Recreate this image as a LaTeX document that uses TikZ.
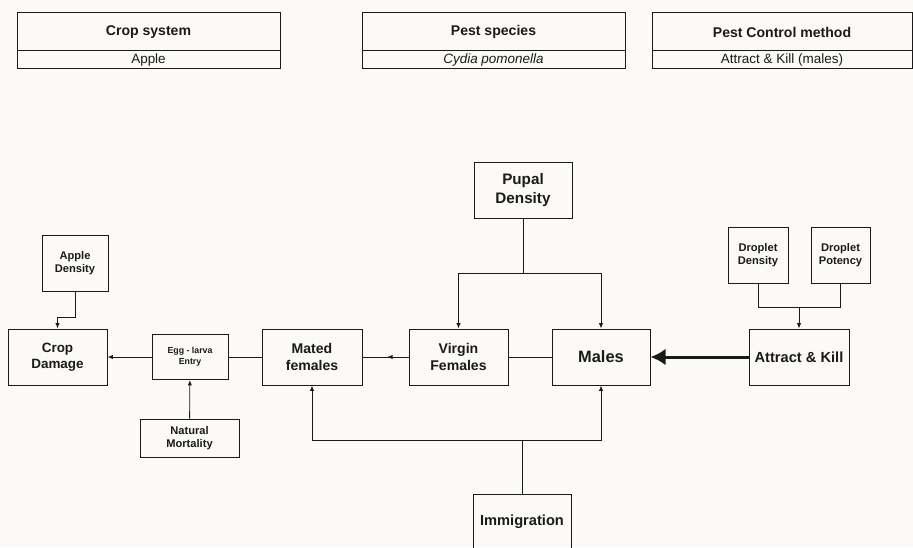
\documentclass[tikz,border=0pt]{standalone}
\usepackage{fontspec}
\setmainfont{Liberation Sans}
\usepackage{tikz}
\usepackage{xcolor}
\usetikzlibrary{arrows.meta,positioning}
\definecolor{paper}{HTML}{FBFAF6}
\definecolor{ink}{HTML}{1A1A1A}
\tikzset{
  tablehead/.style={
    draw=ink,
    line width=0.03cm,
    minimum width=7.89cm,
    minimum height=1.14cm,
    inner sep=0pt,
    font=\fontsize{12}{14}\selectfont\bfseries,
    text=ink
  },
  tablecell/.style={
    draw=ink,
    line width=0.03cm,
    minimum width=7.89cm,
    minimum height=0.54cm,
    inner sep=0pt,
    font=\fontsize{11.5}{13}\selectfont,
    text=ink
  },
  modelbox/.style={
    draw=ink,
    line width=0.03cm,
    minimum width=3cm,
    minimum height=1.68cm,
    inner sep=0.08cm,
    align=center,
    font=\fontsize{12}{14.5}\selectfont\bfseries,
    text=ink
  },
  inputbox/.style={modelbox, font=\fontsize{9.5}{11.5}\selectfont\bfseries},
  flowlink/.style={draw=ink, line width=0.025cm},
  flowarrow/.style={flowlink, -{Latex[length=0.16cm,width=0.13cm]}},
  killarrow/.style={-{Latex[length=0.45cm,width=0.5cm]}, line width=0.09cm, draw=ink}
}

\begin{document}
\begin{tikzpicture}
      \fill[paper] (0,0) rectangle (27.39,16.41);
      \useasboundingbox (0,0) rectangle (27.39,16.41);
      % summary tables
      \node[tablehead] (crophead) at (4.455,15.45) {Crop system};
      \node[tablecell,below=-0.03cm of crophead] (cropval) {Apple};
      \node[tablehead] (pesthead) at (14.805,15.45) {Pest species};
      \node[tablecell,below=-0.03cm of pesthead] (pestval) {\itshape Cydia pomonella};
      \node[tablehead,minimum width=7.8cm] (ctrlhead) at (23.46,15.45) {Pest Control method};
      \node[tablecell,minimum width=7.8cm,below=-0.03cm of ctrlhead] (ctrlval) {Attract \& Kill (males)};
      % model boxes
      \node[modelbox,minimum width=2.97cm,font=\fontsize{11.5}{14}\selectfont\bfseries] (damage) at (1.725,5.7) {Crop\\Damage};
      \node[inputbox,minimum width=1.98cm] (appledens) at (2.25,8.52) {Apple\\Density};
      \node[inputbox,minimum width=2.28cm,minimum height=1.35cm,font=\fontsize{7.5}{9.5}\selectfont\bfseries] (egg) at (5.70,5.7) {Egg - larva\\Entry};
      \node[inputbox,minimum width=2.97cm,minimum height=1.14cm] (mortality) at (5.685,3.27) {Natural\\Mortality};
      \node[modelbox] (mated) at (9.36,5.7) {Mated\\females};
      \node[modelbox,minimum width=2.97cm] (virgin) at (13.755,5.7) {Virgin\\Females};
      \node[modelbox,minimum width=2.94cm,font=\fontsize{14}{16}\selectfont\bfseries] (males) at (18.03,5.7) {Males};
      \node[modelbox,minimum width=2.94cm,font=\fontsize{13}{16}\selectfont\bfseries] (pupal) at (15.69,10.71) {Pupal\\Density};
      \node[modelbox,font=\fontsize{12.5}{15}\selectfont\bfseries] (attract) at (23.97,5.7) {Attract \& Kill};
      \node[inputbox,minimum width=1.8cm] (dropdens) at (22.74,8.76) {Droplet\\Density};
      \node[inputbox,minimum width=1.77cm] (droppot) at (25.215,8.76) {Droplet\\Potency};
      \node[modelbox,minimum width=2.94cm,font=\fontsize{12.5}{15}\selectfont\bfseries] (immig) at (15.66,0.75) {Immigration};
      % junctions
      \coordinate (pupaljoin) at (15.69,8.22);
      \coordinate (dropjoin) at (23.97,7.2);
      \coordinate (immigjoin) at (15.66,3.21);
      % connectors
      \draw[flowarrow] (appledens.south) -- ++(0,-0.78) -| (damage.north);
      \draw[flowarrow] (egg) -- (damage);
      \draw[flowlink] (mated) -- (egg);
      \draw[flowarrow] (mortality) -- (egg);
      \draw[flowlink] (virgin) -- (mated);
      \draw[flowarrow] (virgin.west) -- ++(-0.64,0);
      \draw[flowlink] (virgin) -- (males);
      \draw[flowlink] (pupal) -- (pupaljoin);
      \draw[flowarrow] (pupaljoin) -| (virgin.north);
      \draw[flowarrow] (pupaljoin) -| (males.north);
      \draw[flowlink] (dropdens) |- (dropjoin);
      \draw[flowlink] (droppot) |- (dropjoin);
      \draw[flowarrow] (dropjoin) -- (attract);
      \draw[killarrow] (attract) -- (males);
      \draw[flowlink] (immig) -- (immigjoin);
      \draw[flowarrow] (immigjoin) -| (mated.south);
      \draw[flowarrow] (immigjoin) -| (males.south);
    \end{tikzpicture}
\end{document}
